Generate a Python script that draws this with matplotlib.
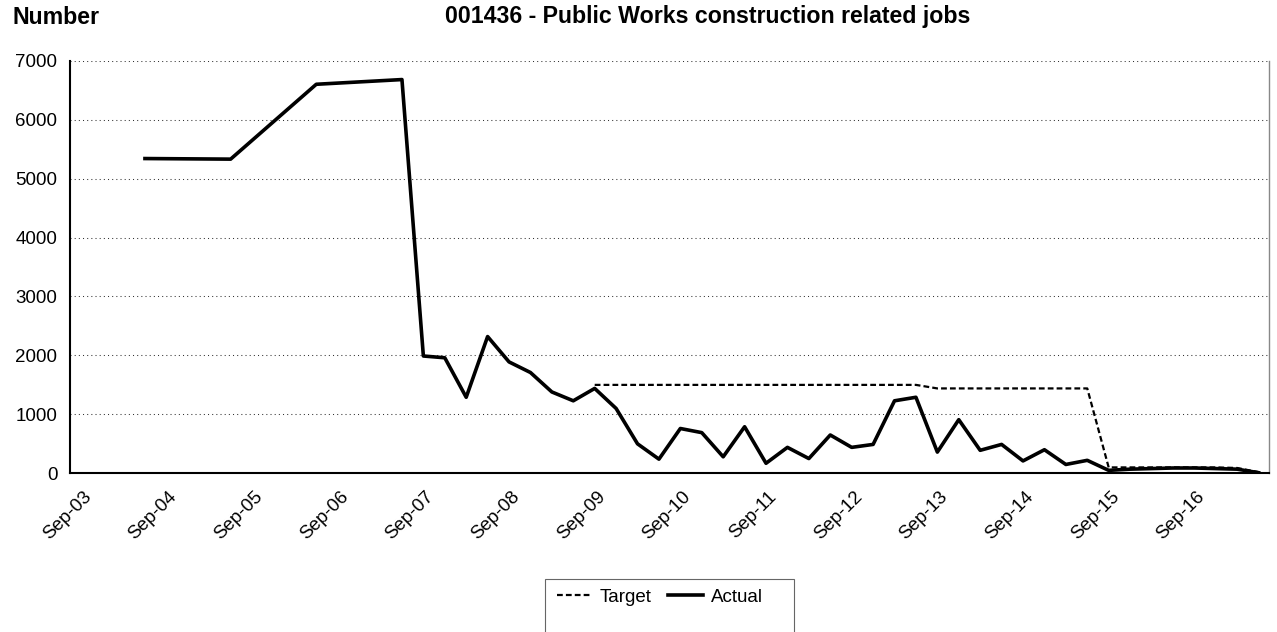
import matplotlib
matplotlib.use("Agg")
import matplotlib.pyplot as plt
from matplotlib.patches import Rectangle
from matplotlib.transforms import ScaledTranslation

plt.rcParams['font.family'] = ['Liberation Sans', 'DejaVu Sans']

# quarter index, 0 = Jun-04
actual_q = [0, 4, 8, 12] + list(range(13, 53))
actual = [5340, 5330, 6600, 6680,
          1990, 1960, 1290, 2320, 1890, 1710, 1380, 1230, 1440, 1100,
          500, 240, 760, 690, 280, 790, 170, 440, 250, 650,
          440, 490, 1230, 1290, 360, 910, 390, 490, 210, 400,
          150, 220, 50, 70, 80, 90, 90, 80, 70, 10]

target_q = list(range(21, 53))
target = [1500] * 16 + [1440] * 8 + [100, 100, 100, 100, 100, 100, 90, 20]

tick_q = list(range(-3, 50, 4))
tick_labels = ['Sep-%02d' % y for y in range(3, 17)]

fig = plt.figure(figsize=(12.77, 6.32), dpi=100)
ax = fig.add_axes([70 / 1277, 1 - 473.3 / 632, 1199.3 / 1277, 412.6 / 632])

ax.plot(target_q, target, color='black', lw=1.6, ls=(0, (2.6, 1.4)), label='Target', zorder=3)
ax.plot(actual_q, actual, color='black', lw=2.6, label='Actual', zorder=4)

ax.set_xlim(-3.5, 52.5)
ax.set_ylim(0, 7000)
ax.set_yticks(range(0, 7001, 1000))
ax.yaxis.grid(True, color='#333333', lw=0.75, ls=(0, (1, 3)))
ax.set_axisbelow(True)

ax.set_xticks(tick_q)
ax.set_xticklabels(tick_labels, rotation=45, ha='right', va='center', rotation_mode='anchor')
ax.tick_params(axis='x', length=0, pad=15, labelsize=13.5)
ax.tick_params(axis='y', length=0, pad=9, labelsize=13.5)
off = ScaledTranslation(8 / 100, 0, fig.dpi_scale_trans)
for lab in ax.get_xticklabels():
    lab.set_transform(lab.get_transform() + off)

ax.spines['top'].set_visible(False)
ax.spines['left'].set_linewidth(1.5)
ax.spines['bottom'].set_linewidth(1.5)
ax.spines['right'].set_color('#888888')
ax.spines['right'].set_linewidth(1.0)

fig.text(12 / 1277, 1 - 23.5 / 632, 'Number', fontsize=16.7, fontweight='bold', ha='left', va='baseline')
fig.text(445 / 1277, 1 - 23.5 / 632, '001436 - Public Works construction related jobs',
         fontsize=16.7, fontweight='bold', ha='left', va='baseline')

fig.patches.append(Rectangle((545 / 1277, -0.05), 249 / 1277, 0.05 + 53 / 632,
                             transform=fig.transFigure, fill=False, ec='#666666', lw=0.8))
fig.legend(loc='center', bbox_to_anchor=(660 / 1277, 1 - 597 / 632), ncol=2, frameon=False,
           fontsize=13.5, handlelength=1.85, handletextpad=0.4, columnspacing=0.9)

fig.savefig('out.png', dpi=100)
